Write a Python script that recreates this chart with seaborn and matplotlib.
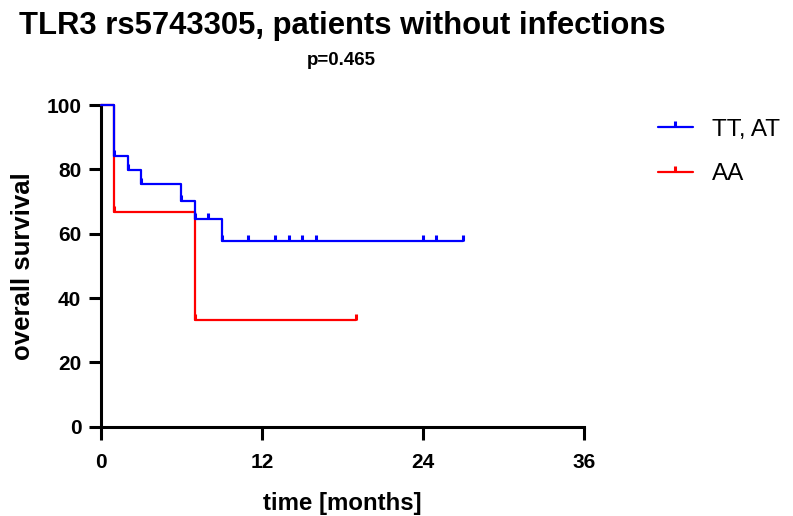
import numpy as np
import pandas as pd
import matplotlib
matplotlib.use("Agg")
import matplotlib.pyplot as plt
from matplotlib.path import Path
from matplotlib.lines import Line2D
import seaborn as sns

# --- data ---
groups = ["TT, AT", "AA"]
colors = ["#0000FF", "#FF0000"]

ttat_times = [0, 1, 2, 3, 6, 7, 9, 27]
ttat_surv = [100, 84.0, 79.8, 75.4, 70.3, 64.5, 57.6, 57.6]
ttat_censored = [1, 2, 3, 6, 7, 8, 9, 11, 13, 14, 15, 16, 24, 25, 27]

aa_times = [0, 1, 7, 19]
aa_surv = [100, 66.7, 33.3, 33.3]
aa_censored = [1, 7, 19]

xticks = [0, 12, 24, 36]
yticks = [0, 20, 40, 60, 80, 100]

title = "TLR3 rs5743305, patients without infections"
subtitle = "p=0.465"

sns.set_style("ticks")
plt.rcParams['font.family'] = ['Liberation Sans', 'DejaVu Sans']
plt.rcParams.update({"text.color": "black", "axes.labelcolor": "black",
                     "xtick.color": "black", "ytick.color": "black"})

fig = plt.figure(figsize=(7.93, 5.16), dpi=100)
ax = fig.add_axes([0.127, 0.173, 0.6095, 0.6235])

tick_marker = Path([(0, 0), (0, 1)], [Path.MOVETO, Path.LINETO])

def step_value(times, surv, t):
    idx = np.searchsorted(times, t, side="right") - 1
    return surv[idx]

series = [(ttat_times, ttat_surv, ttat_censored), (aa_times, aa_surv, aa_censored)]
zorders = [5, 3]
for (times, surv, cens), g, c, z in zip(series, groups, colors, zorders):
    df = pd.DataFrame({"time": times, "surv": surv})
    sns.lineplot(data=df, x="time", y="surv", ax=ax, color=c, lw=1.6,
                 drawstyle="steps-post", estimator=None, sort=False,
                 legend=False, clip_on=False, zorder=z)
    cdf = pd.DataFrame({"time": cens,
                        "surv": [step_value(times, surv, t) for t in cens]})
    ax.plot(cdf["time"], cdf["surv"], linestyle="none", marker=tick_marker,
            markersize=8, markeredgewidth=2.2, color=c, clip_on=False, zorder=z + 1)

ax.set_xlim(0, 36)
ax.set_ylim(0, 100)
ax.set_xticks(xticks)
ax.set_yticks(yticks)
ax.set_xticklabels([str(v) for v in xticks], fontsize=15, fontweight="bold")
ax.set_yticklabels([str(v) for v in yticks], fontsize=15, fontweight="bold")
ax.tick_params(axis="both", length=9, width=2.2, color="black", labelcolor="black")
ax.tick_params(axis="x", pad=10)
ax.tick_params(axis="y", pad=5)
for s in ["left", "bottom"]:
    ax.spines[s].set_linewidth(2.2)
    ax.spines[s].set_color("black")
sns.despine(ax=ax)

ax.set_xlabel("time [months]", fontsize=17.3, fontweight="bold", labelpad=14, color="black")
ax.set_ylabel("overall survival", fontsize=18.5, fontweight="bold", labelpad=8, color="black")

fig.text(0.431, 1 - 34.3 / 516, title, ha="center", va="baseline",
         fontsize=22.3, fontweight="bold", color="black")
fig.text(0.431, 1 - 65 / 516, subtitle, ha="center", va="baseline",
         fontsize=13.5, fontweight="bold", color="black")

handles = [Line2D([0], [0], color=c, lw=1.6, marker=tick_marker, markersize=8,
                  markeredgewidth=2.2) for c in colors]
leg = fig.legend(handles, groups, loc="upper left", bbox_to_anchor=(0.8298, 0.770),
                 frameon=False, fontsize=17.5, handlelength=1.43, handletextpad=0.78,
                 labelspacing=0.93, numpoints=1, borderaxespad=0, borderpad=0)
for t in leg.get_texts():
    t.set_color("black")

fig.savefig("out.png", dpi=100)
